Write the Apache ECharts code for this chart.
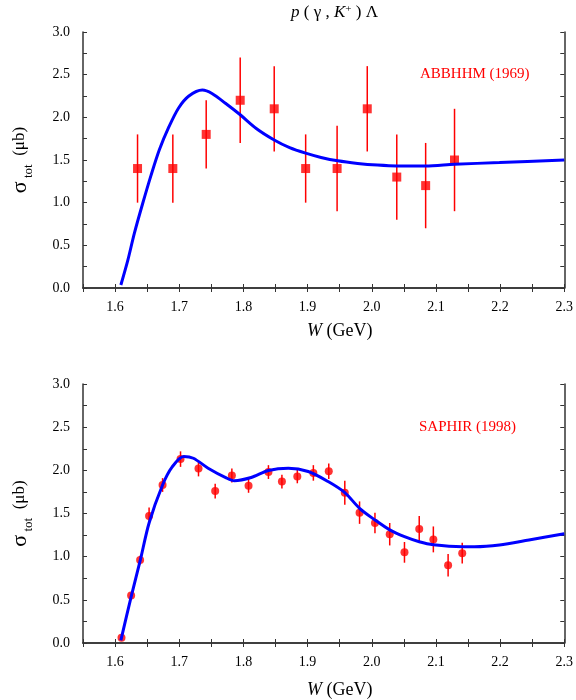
<!DOCTYPE html>
<html>
<head>
<meta charset="utf-8">
<title></title>
<script src="https://cdn.jsdelivr.net/npm/echarts@6/dist/echarts.min.js"></script>
</head>
<body style="margin:0;background:#ffffff;">
<div id="container" style="width:576px;height:700px;"></div>
<script type="text/javascript">
// ABBHHM (1969) points
var abbW = [1.635, 1.69, 1.742, 1.795, 1.848, 1.897, 1.946, 1.993, 2.039, 2.084, 2.129];
var abbS = [1.4, 1.4, 1.8, 2.2, 2.1, 1.4, 1.4, 2.1, 1.3, 1.2, 1.5];
var abbE = [0.4, 0.4, 0.4, 0.5, 0.5, 0.4, 0.5, 0.5, 0.5, 0.5, 0.6];
// model curve, top panel
var fitTopW = [1.609, 1.620, 1.630, 1.643, 1.656, 1.669, 1.684, 1.699, 1.715, 1.736, 1.751, 1.772, 1.795, 1.820, 1.848, 1.872, 1.897, 1.921, 1.947, 1.978, 2.009, 2.039, 2.084, 2.129, 2.199, 2.3];
var fitTopS = [0.035, 0.33, 0.64, 0.99, 1.32, 1.62, 1.89, 2.11, 2.25, 2.32, 2.28, 2.165, 2.03, 1.87, 1.735, 1.645, 1.58, 1.53, 1.49, 1.46, 1.44, 1.43, 1.43, 1.45, 1.47, 1.50];
// SAPHIR (1998) points
var sapW = [1.610, 1.625, 1.639, 1.653, 1.674, 1.702, 1.730, 1.756, 1.782, 1.808, 1.839, 1.860, 1.884, 1.909, 1.933, 1.958, 1.981, 2.005, 2.028, 2.051, 2.074, 2.096, 2.119, 2.141];
var sapS = [0.06, 0.55, 0.96, 1.47, 1.83, 2.13, 2.02, 1.76, 1.94, 1.82, 1.98, 1.87, 1.93, 1.97, 1.99, 1.74, 1.51, 1.39, 1.26, 1.05, 1.32, 1.20, 0.90, 1.04];
var sapE = [0.02, 0.03, 0.05, 0.10, 0.08, 0.09, 0.09, 0.085, 0.08, 0.08, 0.08, 0.08, 0.08, 0.09, 0.09, 0.14, 0.13, 0.12, 0.13, 0.12, 0.15, 0.15, 0.13, 0.12];
// model curve, bottom panel
var fitBotW = [1.609, 1.625, 1.639, 1.653, 1.674, 1.689, 1.707, 1.722, 1.745, 1.774, 1.786, 1.812, 1.839, 1.870, 1.901, 1.932, 1.958, 1.981, 2.005, 2.028, 2.051, 2.074, 2.096, 2.141, 2.16, 2.199, 2.245, 2.3];
var fitBotS = [0.03, 0.535, 0.95, 1.39, 1.83, 2.04, 2.16, 2.14, 2.025, 1.91, 1.88, 1.917, 1.998, 2.025, 1.986, 1.87, 1.742, 1.56, 1.425, 1.31, 1.231, 1.173, 1.138, 1.115, 1.115, 1.135, 1.193, 1.265];

var FONT = 'Liberation Serif';

function pairs(xs, ys){
	var out = [];
	for(var i=0;i<xs.length;i++) out.push([xs[i], ys[i]]);
	return out;
}
function bars(xs, ys, es){
	var out = [];
	for(var i=0;i<xs.length;i++) out.push([xs[i], ys[i]-es[i], ys[i]+es[i]]);
	return out;
}

function errRender(params, api){
	var p1 = api.coord([api.value(0), api.value(1)]);
	var p2 = api.coord([api.value(0), api.value(2)]);
	return {
		type: 'line',
		shape: {x1: p1[0], y1: p1[1], x2: p2[0], y2: p2[1]},
		style: {stroke: '#ff0000', lineWidth: 1.5}
	};
}

function xAx(gi, pos){
	return {
		type: 'value', gridIndex: gi, position: pos,
		min: 1.55, max: 2.3, interval: 0.05,
		axisLine: {show: true, lineStyle: {color: '#333', width: 1.5}},
		axisTick: {show: true, inside: true, length: 4, lineStyle: {color: '#333'}},
		splitLine: {show: false},
		axisLabel: {
			show: pos === 'bottom', margin: 12,
			fontFamily: FONT, fontSize: 14, color: '#000',
			formatter: function(v){ return Math.round(v*100)%10===0 ? v.toFixed(1) : ''; }
		}
	};
}
function yAx(gi, pos){
	return {
		type: 'value', gridIndex: gi, position: pos,
		min: 0, max: 3, interval: 0.25,
		axisLine: {show: true, lineStyle: {color: '#333', width: 1.5}},
		axisTick: {show: true, inside: true, length: 4, lineStyle: {color: '#333'}},
		splitLine: {show: false},
		name: pos === 'left' ? '{s|σ}{sub| tot}{n|  (μb)}' : '',
		nameLocation: 'middle', nameRotate: 90, nameGap: 48,
		nameTextStyle: {
			fontFamily: FONT, color: '#000',
			rich: {
				s: {fontFamily: FONT, fontSize: 22, lineHeight: 30, verticalAlign: 'middle'},
				sub: {fontFamily: FONT, fontSize: 13, lineHeight: 30, verticalAlign: 'bottom'},
				n: {fontFamily: FONT, fontSize: 17, lineHeight: 30, verticalAlign: 'middle'}
			}
		},
		axisLabel: {
			show: pos === 'left', margin: 13,
			fontFamily: FONT, fontSize: 14, color: '#000',
			formatter: function(v){ return Math.round(v*100)%50===0 ? v.toFixed(1) : ''; }
		}
	};
}

var dom = document.getElementById('container');
var myChart = echarts.init(dom);
var option = {
	backgroundColor: '#ffffff',
	animation: false,
	grid: [
		{left: 83, top: 32, width: 484, height: 256},
		{left: 83, top: 384, width: 484, height: 259}
	],
	xAxis: [xAx(0,'bottom'), xAx(0,'top'), xAx(1,'bottom'), xAx(1,'top')],
	yAxis: [yAx(0,'left'), yAx(0,'right'), yAx(1,'left'), yAx(1,'right')],
	graphic: [
		{type: 'text', left: 291, top: 4, style: {
			text: '{i|p} ( γ , {i|K}{sup|+} ) Λ',
			fontFamily: FONT, fontSize: 17, fill: '#000',
			rich: {
				i: {fontFamily: FONT, fontStyle: 'italic', fontSize: 17},
				sup: {fontFamily: FONT, fontSize: 11, verticalAlign: 'top'}
			}
		}},
		{type: 'text', left: 307, top: 322, style: {
			text: '{i|W} (GeV)', fontFamily: FONT, fontSize: 18, fill: '#000',
			rich: {i: {fontFamily: FONT, fontStyle: 'italic', fontSize: 18}}
		}},
		{type: 'text', left: 307, top: 681, style: {
			text: '{i|W} (GeV)', fontFamily: FONT, fontSize: 18, fill: '#000',
			rich: {i: {fontFamily: FONT, fontStyle: 'italic', fontSize: 18}}
		}},
		{type: 'text', left: 420, top: 67, style: {
			text: 'ABBHHM (1969)', fontFamily: FONT, fontSize: 15, fill: '#ff0000'
		}},
		{type: 'text', left: 419, top: 420, style: {
			text: 'SAPHIR (1998)', fontFamily: FONT, fontSize: 15, fill: '#ff0000'
		}}
	],
	series: [
		{
			type: 'custom', xAxisIndex: 0, yAxisIndex: 0,
			renderItem: errRender, data: bars(abbW, abbS, abbE), z: 2
		},
		{
			type: 'scatter', xAxisIndex: 0, yAxisIndex: 0,
			symbol: 'rect', symbolSize: 9,
			itemStyle: {color: '#ff0000'},
			data: pairs(abbW, abbS), z: 3
		},
		{
			type: 'line', xAxisIndex: 0, yAxisIndex: 0,
			smooth: 0.3, showSymbol: false,
			lineStyle: {color: '#0000ff', width: 3},
			data: pairs(fitTopW, fitTopS), z: 4
		},
		{
			type: 'custom', xAxisIndex: 2, yAxisIndex: 2,
			renderItem: errRender, data: bars(sapW, sapS, sapE), z: 2
		},
		{
			type: 'scatter', xAxisIndex: 2, yAxisIndex: 2,
			symbol: 'circle', symbolSize: 8,
			itemStyle: {color: '#ff0000'},
			data: pairs(sapW, sapS), z: 3
		},
		{
			type: 'line', xAxisIndex: 2, yAxisIndex: 2,
			smooth: 0.3, showSymbol: false,
			lineStyle: {color: '#0000ff', width: 3},
			data: pairs(fitBotW, fitBotS), z: 4
		}
	]
};
myChart.setOption(option, true);
</script>
</body>
</html>
